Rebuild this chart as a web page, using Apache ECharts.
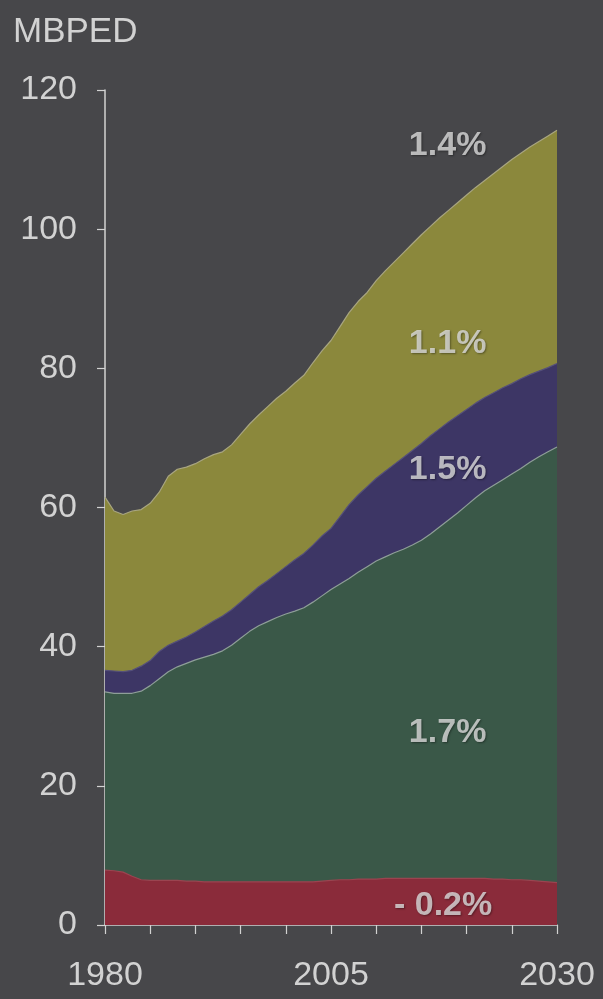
<!DOCTYPE html>
<html>
<head>
<meta charset="utf-8">
<script src="https://cdn.jsdelivr.net/npm/echarts@6/dist/echarts.min.js"></script>
<style>
html,body{margin:0;padding:0;background:#47474a;}
#chart{width:603px;height:999px;}
</style>
</head>
<body>
<div id="chart"></div>
<script>
var years = [1980,1981,1982,1983,1984,1985,1986,1987,1988,1989,
             1990,1991,1992,1993,1994,1995,1996,1997,1998,1999,
             2000,2001,2002,2003,2004,2005,2006,2007,2008,2009,
             2010,2011,2012,2013,2014,2015,2016,2017,2018,2019,
             2020,2021,2022,2023,2024,2025,2026,2027,2028,2029,2030];

// Upper edge of each band (cumulative, MBPED)
var yellowTop = [61.5,59.5,59.0,59.5,59.7,60.6,62.2,64.5,65.5,65.8,
                 66.3,67.0,67.6,68.0,69.0,70.5,72.0,73.3,74.5,75.7,
                 76.7,77.9,79.0,80.8,82.5,84.0,86.0,88.0,89.6,90.9,
                 92.6,94.0,95.3,96.6,97.9,99.2,100.4,101.6,102.7,103.8,
                 104.9,106.0,107.0,108.0,109.0,110.0,110.9,111.8,112.6,113.4,114.2];
var purpleTop = [36.6,36.5,36.4,36.6,37.2,38.0,39.3,40.2,40.8,41.4,
                 42.1,42.9,43.7,44.4,45.3,46.4,47.5,48.6,49.5,50.5,
                 51.5,52.5,53.4,54.6,55.9,57.0,58.7,60.4,61.8,63.0,
                 64.2,65.2,66.2,67.2,68.2,69.2,70.3,71.3,72.3,73.2,
                 74.1,75.0,75.8,76.5,77.2,77.8,78.5,79.1,79.6,80.1,80.7];
var greenTop  = [33.5,33.3,33.3,33.3,33.6,34.4,35.4,36.4,37.1,37.6,
                 38.1,38.5,38.9,39.4,40.2,41.2,42.2,43.0,43.6,44.2,
                 44.7,45.1,45.6,46.4,47.3,48.2,49.0,49.8,50.7,51.5,
                 52.3,52.9,53.5,54.0,54.6,55.3,56.2,57.2,58.2,59.2,
                 60.3,61.4,62.4,63.2,64.0,64.8,65.6,66.5,67.3,68.0,68.7];
var redTop    = [7.9,7.8,7.6,7.0,6.5,6.4,6.4,6.4,6.4,6.3,
                 6.3,6.2,6.2,6.2,6.2,6.2,6.2,6.2,6.2,6.2,
                 6.2,6.2,6.2,6.2,6.3,6.4,6.5,6.5,6.6,6.6,
                 6.6,6.7,6.7,6.7,6.7,6.7,6.7,6.7,6.7,6.7,
                 6.7,6.7,6.7,6.6,6.6,6.5,6.5,6.4,6.3,6.2,6.1];

var growthLabels = ['1.4%','1.1%','1.5%','1.7%','- 0.2%'];
var labelYears   = [2017.9,2017.9,2017.9,2017.9,2017.4];
var labelValues  = [112.0,83.6,65.4,27.6,2.8];

var xTickLabels = ['1980','2005','2030'];
var yMin = 0, yMax = 120, yStep = 20;

function pairs(vals){ return years.map(function(y,i){ return [y, vals[i]]; }); }

var chart = echarts.init(document.getElementById('chart'), null, {renderer:'canvas'});
var axisCol = '#d2d2d2';
var fontFam = '"Liberation Sans", Arial, sans-serif';

function band(name, vals, fill, edge){
  return {
    name: name, type: 'line', data: pairs(vals), symbol: 'none', smooth: false,
    lineStyle: {color: edge, width: 1.2},
    areaStyle: {color: fill, opacity: 1},
    emphasis: {disabled: true}, silent: true
  };
}

chart.setOption({
  backgroundColor: '#47474a',
  animation: false,
  title: {
    text: 'MBPED', left: 8, top: 10,
    textStyle: {color: axisCol, fontSize: 35, fontWeight: 'normal', fontFamily: fontFam}
  },
  grid: {left: 105, right: 46, top: 90, bottom: 74, containLabel: false},
  xAxis: {
    type: 'value', min: 1980, max: 2030, interval: 5,
    axisLine: {show: true, onZero: false, lineStyle: {color: axisCol, width: 1.5}},
    axisTick: {show: true, length: 9, lineStyle: {color: axisCol, width: 1.2}},
    splitLine: {show: false},
    axisLabel: {
      color: axisCol, fontSize: 34, fontFamily: fontFam, margin: 34,
      showMinLabel: true, showMaxLabel: true,
      formatter: function(v){ var s = String(Math.round(v)); return xTickLabels.indexOf(s) >= 0 ? s : ''; }
    }
  },
  yAxis: {
    type: 'value', min: yMin, max: yMax, interval: yStep,
    axisLine: {show: true, lineStyle: {color: axisCol, width: 1.5}},
    axisTick: {show: true, length: 8, lineStyle: {color: axisCol, width: 1.2}},
    splitLine: {show: false},
    axisLabel: {color: axisCol, fontSize: 34, fontFamily: fontFam, margin: 28}
  },
  series: [
    band('Yellow', yellowTop, '#8b883c', '#a8a580'),
    band('Purple', purpleTop, '#3d3665', '#55507a'),
    band('Green', greenTop, '#3a5848', '#8e9e98'),
    band('Red', redTop, '#8a2b3a', '#9a4450'),
    {
      name: 'labels', type: 'scatter', symbolSize: 0, silent: true,
      data: labelYears.map(function(y,i){ return {value: [y, labelValues[i]], name: growthLabels[i]}; }),
      label: {
        show: true, position: 'inside', formatter: function(p){ return p.name; },
        color: '#dcdcdc', fontSize: 34, fontWeight: 'bold', fontFamily: fontFam,
        textShadowColor: 'rgba(0,0,0,0.45)', textShadowBlur: 2, textShadowOffsetX: 1, textShadowOffsetY: 1
      },
      z: 10
    }
  ]
});
</script>
</body>
</html>
